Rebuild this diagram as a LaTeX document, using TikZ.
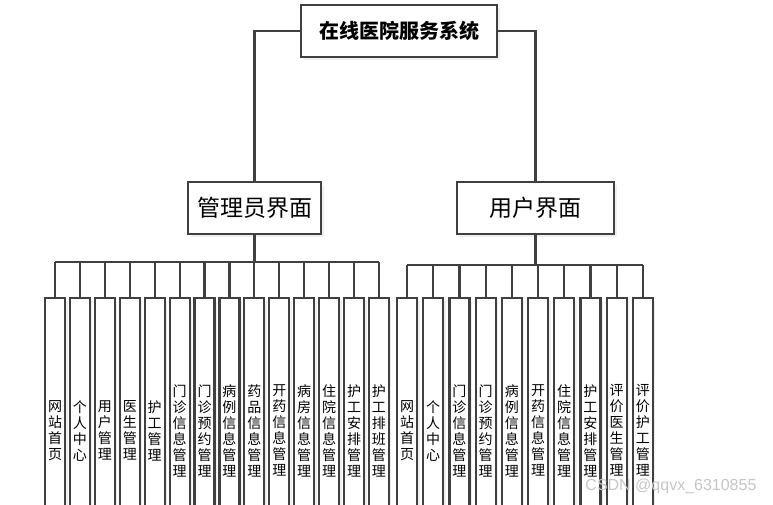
\documentclass[tikz,border=0pt]{standalone}
\usepackage{fontspec}
\newfontfamily\cjk{Noto Sans CJK SC}
\setsansfont{Liberation Sans}
\usetikzlibrary{positioning,shadows}
\definecolor{linegray}{HTML}{404040}

\begin{document}
\begin{tikzpicture}[
      x=1pt, y=-1pt,
      box/.style={draw=linegray, line width=2.2pt, fill=white, align=center,
                  inner sep=0pt, font=\cjk,
                  drop shadow={opacity=0.12, shadow xshift=2.5pt, shadow yshift=-2.5pt}},
      topbox/.style={box, minimum width=196pt, minimum height=52pt,
                     font=\cjk\bfseries\fontsize{20}{24}\selectfont},
      midbox/.style={box, minimum height=52pt, font=\cjk\fontsize{23}{26}\selectfont},
      leaf/.style={box, minimum width=20pt, minimum height=265pt, anchor=north,
                   font=\cjk\fontsize{14}{16}\selectfont},
      conn/.style={draw=linegray, line width=2.2pt}
    ]
    \useasboundingbox[fill=white] (0,0) rectangle (773,504);
    \begin{scope}
    \clip (0,0) rectangle (773,504);
    \node[topbox] (sys) at (399,31) {在线医院服务系统};
    \node[midbox, minimum width=133pt] (adm) at (254.5,208) {管理员界面};
    \node[midbox, minimum width=157pt] (usr) at (535.5,208) {用户界面};
    \draw[conn] (sys.west) -| (adm.north);
    \draw[conn] (sys.east) -| (usr.north);

    % admin modules
    \coordinate (abus) at (254.5,262);
    \foreach \t [count=\i from 0] in {网\\站\\首\\页, 个\\人\\中\\心, 用\\户\\管\\理,
        医\\生\\管\\理, 护\\工\\管\\理, 门\\诊\\信\\息\\管\\理, 门\\诊\\预\\约\\管\\理,
        病\\例\\信\\息\\管\\理, 药\\品\\信\\息\\管\\理, 开\\药\\信\\息\\管\\理,
        病\\房\\信\\息\\管\\理, 住\\院\\信\\息\\管\\理, 护\\工\\安\\排\\管\\理,
        护\\工\\排\\班\\管\\理}
      \node[leaf] (a\i) at (55+24.92*\i,297) {\t};
    \draw[conn] (adm.south) -- (abus);
    \draw[conn] (abus -| a0) -- (abus -| a13);
    \foreach \i in {0,...,13}
      \draw[conn] (abus -| a\i) -- (a\i.north);

    % user modules
    \coordinate (ubus) at (535.5,265);
    \foreach \t [count=\i from 0] in {网\\站\\首\\页, 个\\人\\中\\心,
        门\\诊\\信\\息\\管\\理, 门\\诊\\预\\约\\管\\理, 病\\例\\信\\息\\管\\理,
        开\\药\\信\\息\\管\\理, 住\\院\\信\\息\\管\\理, 护\\工\\安\\排\\管\\理,
        评\\价\\医\\生\\管\\理, 评\\价\\护\\工\\管\\理}
      \node[leaf] (u\i) at (407+26.2*\i,297) {\t};
    \draw[conn] (usr.south) -- (ubus);
    \draw[conn] (ubus -| u0) -- (ubus -| u9);
    \foreach \i in {0,...,9}
      \draw[conn] (ubus -| u\i) -- (u\i.north);

    \node[text=gray!45, font=\sffamily\fontsize{16}{18}\selectfont, anchor=east]
      (mark) at (760,486) {CSDN @qqvx\_6310855};
    \end{scope}
  \end{tikzpicture}
\end{document}
